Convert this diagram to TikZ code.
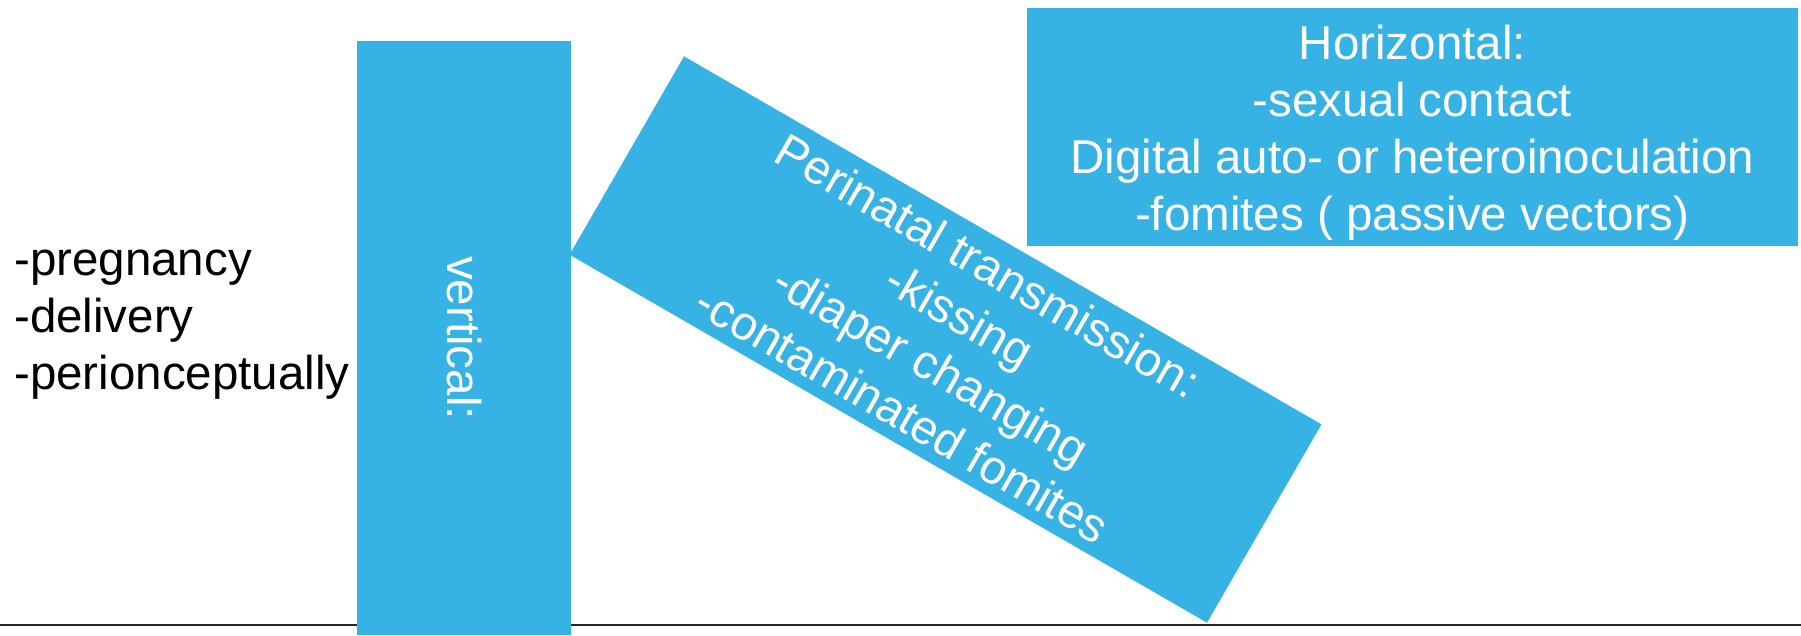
\documentclass[tikz,border=0pt]{standalone}
\usepackage{fontspec}
\setmainfont{Liberation Sans}
\definecolor{routeblue}{RGB}{54,179,228}
\begin{document}
\begin{tikzpicture}[x=1pt,y=-1pt,
  txt/.style={font=\fontsize{47.5}{57}\selectfont, inner sep=0pt},
  bluebox/.style={txt, fill=routeblue, text=white, align=center}]
\useasboundingbox (0,0) rectangle (1801,635);

% ground line
\coordinate (gl) at (0,625);
\coordinate (gr) at (1801,625);
\draw[line width=2pt, black!85] (gl) -- (gr);

% vertical transmission column
\node[bluebox, minimum width=214pt, minimum height=594pt] (vert) at (464.3,338) {};
\node[txt, text=white, rotate=-90] (vertlbl) at (vert.center) {vertical:};

% routes of vertical transmission (base anchor sits on the last line)
\node[txt, anchor=base west, align=left] (routes) at (14,389)
  {-pregnancy\\-delivery\\-perionceptually};

% tilted perinatal box
\node[bluebox, minimum width=736pt, minimum height=229pt, rotate=-30] (peri) at (945.5,339.5)
  {Perinatal transmission:\\-kissing\\-diaper changing\\-contaminated fomites};

% horizontal transmission box and its list
\node[bluebox, minimum width=771.4pt, minimum height=237.7pt] (horiz) at (1412.3,127.2) {};
\node[txt, text=white, align=center, yshift=-6pt] (horizlbl) at (horiz.center)
  {Horizontal:\\-sexual contact\\Digital auto- or heteroinoculation\\-fomites ( passive vectors)};
\end{tikzpicture}
\end{document}
